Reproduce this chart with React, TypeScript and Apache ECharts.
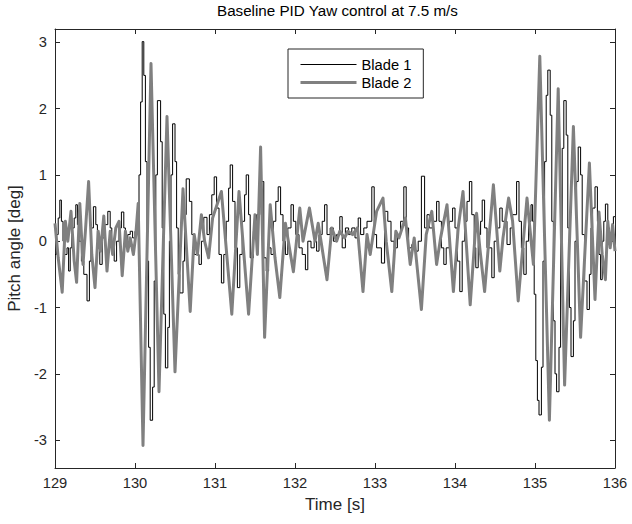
import React, { useEffect, useRef } from 'react';
import * as echarts from 'echarts';

const titleText = 'Baseline PID Yaw control at 7.5 m/s';
const xName = 'Time [s]';
const yName = 'Pitch angle [deg]';
const xRange = [129, 136];
const yRange = [-3.42, 3.2];
const yTicks = [-3, -2, -1, 0, 1, 2, 3];
const seriesNames = ['Blade 1', 'Blade 2'];

// Blade 1: zero-order-hold samples [time s, pitch deg]
const blade1: [number, number][] = [
  [129.0, -0.2], [129.02, 0.1], [129.04, 0.35], [129.06, 0.62], [129.08, 0.3], [129.1, 0.0],
  [129.12, -0.2], [129.15, -0.1], [129.17, -0.45], [129.19, -0.1], [129.21, 0.2], [129.24, 0.35],
  [129.26, 0.55], [129.28, 0.25], [129.3, 0.0], [129.33, -0.3], [129.36, -0.5], [129.4, -0.9],
  [129.43, -0.3], [129.45, 0.2], [129.48, 0.52], [129.51, 0.25], [129.53, 0.0], [129.56, -0.35],
  [129.59, 0.05], [129.62, 0.25], [129.66, 0.45], [129.69, 0.2], [129.71, -0.05], [129.74, -0.3],
  [129.77, 0.0], [129.8, 0.2], [129.83, 0.44], [129.86, 0.2], [129.88, 0.0], [129.91, 0.1],
  [129.94, 0.15], [129.97, 0.05], [130.0, 0.15], [130.03, 0.3],
  [130.05, 1.0], [130.07, 2.1], [130.09, 3.01], [130.11, 2.5], [130.13, 1.2], [130.15, -0.3],
  [130.17, -1.6], [130.19, -2.7], [130.22, -2.2], [130.24, -0.6], [130.26, 1.0], [130.28, 2.12],
  [130.32, 1.5], [130.34, 0.2], [130.36, -1.1], [130.38, -1.91], [130.41, -1.3], [130.43, 0.0],
  [130.45, 1.0], [130.47, 1.77], [130.5, 1.2], [130.52, 0.2], [130.54, -0.5], [130.56, -0.78],
  [130.6, -0.3], [130.62, 0.4], [130.64, 0.94], [130.68, 0.6], [130.71, 0.1], [130.74, -0.2],
  [130.8, -0.35], [130.83, 0.0], [130.86, 0.36], [130.9, 0.1], [130.93, 0.4], [130.96, 0.7],
  [130.99, 0.97], [131.02, 0.5], [131.05, -0.2], [131.08, -0.63], [131.11, -0.2], [131.14, 0.3],
  [131.17, 0.8], [131.19, 1.15], [131.22, 0.6], [131.25, -0.1], [131.28, -0.7], [131.31, -0.2],
  [131.34, 0.3], [131.37, 0.7], [131.39, 1.0], [131.42, 0.4], [131.44, -0.25], [131.48, 0.15],
  [131.52, 0.4], [131.56, 0.6], [131.58, 0.9], [131.61, -0.25], [131.64, -0.45], [131.67, -0.1],
  [131.7, -0.2], [131.73, 0.3], [131.76, 0.6], [131.79, 0.82], [131.82, 0.4], [131.85, 0.0],
  [131.88, -0.2], [131.91, 0.2], [131.95, 0.55], [131.98, 0.3], [132.01, 0.1], [132.05, -0.1],
  [132.09, -0.2], [132.13, -0.43], [132.16, 0.0], [132.2, -0.1], [132.24, 0.0], [132.27, -0.15],
  [132.3, 0.1], [132.34, 0.3], [132.37, 0.55], [132.4, 0.1], [132.44, 0.2], [132.48, 0.0],
  [132.52, 0.1], [132.56, 0.37], [132.59, -0.1], [132.63, 0.2], [132.67, 0.1], [132.71, 0.2],
  [132.75, 0.05], [132.79, 0.35], [132.82, 0.1], [132.86, 0.2], [132.9, 0.3], [132.96, 0.82],
  [132.99, 0.1], [133.02, -0.1], [133.08, -0.33], [133.12, 0.45], [133.16, 0.3], [133.2, 0.0],
  [133.24, -0.1], [133.28, 0.1], [133.32, 0.3], [133.36, 0.82], [133.39, 0.2], [133.42, -0.1],
  [133.46, -0.05], [133.5, -0.15], [133.54, 0.0], [133.58, 0.98], [133.62, 0.2], [133.65, 0.4],
  [133.68, 0.2], [133.72, 0.3], [133.77, 0.6], [133.8, 0.3], [133.83, -0.1], [133.86, -0.35],
  [133.89, -0.1], [133.93, 0.3], [133.97, 0.5], [134.0, 0.2], [134.03, -0.3], [134.06, -0.76],
  [134.09, 0.0], [134.12, 0.3], [134.15, 0.6], [134.18, 0.9], [134.21, 0.4], [134.24, -0.1],
  [134.26, -0.4], [134.29, 0.1], [134.32, 0.3], [134.34, 0.62], [134.37, 0.2], [134.4, -0.1],
  [134.46, -0.55], [134.49, 0.0], [134.52, 0.2], [134.56, 0.5], [134.59, 0.3], [134.65, -0.05],
  [134.69, 0.2], [134.72, 0.4], [134.77, 0.9], [134.8, 0.3], [134.83, -0.1], [134.86, -0.5],
  [134.89, 0.0], [134.92, 0.3], [134.95, 0.55], [134.97, 0.3],
  [134.99, -0.8], [135.01, -1.8], [135.03, -2.4], [135.05, -2.62], [135.08, -1.9], [135.1, -0.3],
  [135.12, 1.2], [135.14, 2.2], [135.16, 2.58], [135.19, 1.9], [135.21, 0.3], [135.23, -1.2],
  [135.25, -2.0], [135.27, -2.27], [135.3, -1.6], [135.32, 0.0], [135.34, 1.4], [135.36, 2.12],
  [135.39, 1.6], [135.41, 0.2], [135.43, -1.0], [135.45, -1.74], [135.48, -1.2], [135.5, 0.0],
  [135.52, 0.9], [135.54, 1.42], [135.57, 1.0], [135.59, 0.1], [135.62, -0.6], [135.65, -1.03],
  [135.68, -0.5], [135.7, 0.2], [135.72, 0.5], [135.75, 0.82], [135.78, 0.3], [135.8, -0.2],
  [135.82, -0.58], [135.84, 0.0], [135.86, 0.3], [135.88, 0.56], [135.91, 0.2], [135.93, 0.0],
  [135.96, 0.2], [135.98, 0.37], [136.0, 0.37],
];

// Blade 2: [time s, pitch deg]
const blade2: [number, number][] = [
  [129.0, 0.27], [129.04, -0.25], [129.09, -0.77], [129.13, 0.3], [129.16, 0.0], [129.2, 0.45],
  [129.24, -0.3], [129.27, -0.62], [129.31, 0.57], [129.35, -0.35], [129.38, 0.15], [129.42, 0.9],
  [129.46, -0.2], [129.5, -0.7], [129.54, 0.15], [129.57, -0.15], [129.61, 0.38], [129.65, -0.45],
  [129.69, 0.15], [129.72, -0.2], [129.76, 0.2], [129.8, 0.3], [129.84, -0.52], [129.88, 0.15],
  [129.91, -0.15], [129.94, 0.05], [129.98, -0.2], [130.01, 0.1], [130.04, 0.57],
  [130.1, -3.08], [130.2, 2.68], [130.3, -2.27], [130.4, 1.88], [130.5, -1.97], [130.6, 0.79],
  [130.69, -1.06], [130.74, 0.1], [130.78, -0.2], [130.83, 0.4], [130.87, 0.0], [130.92, -0.25],
  [130.97, 0.35], [131.08, 0.75], [131.21, -1.1], [131.3, 0.75], [131.42, -1.1], [131.5, 0.4],
  [131.53, -0.2], [131.57, 1.42], [131.62, -1.45], [131.69, 0.55], [131.75, -0.25], [131.81, -0.85],
  [131.88, 0.27], [131.93, -0.1], [131.98, -0.46], [132.06, 0.5], [132.1, 0.0], [132.18, 0.5],
  [132.25, 0.0], [132.29, 0.27], [132.4, -0.58], [132.46, 0.2], [132.52, 0.0], [132.56, 0.15],
  [132.62, 0.05], [132.66, 0.15], [132.72, 0.1], [132.78, 0.2], [132.85, -0.76], [132.9, 0.1],
  [132.94, -0.2], [133.02, 0.45], [133.1, 0.65], [133.14, 0.0], [133.21, -0.76], [133.26, 0.15],
  [133.3, 0.05], [133.38, 0.35], [133.44, -0.35], [133.49, 0.05], [133.58, -1.03], [133.64, 0.1],
  [133.71, 0.45], [133.77, -0.35], [133.82, 0.05], [133.9, 0.55], [133.98, -0.76], [134.04, 0.2],
  [134.1, 0.75], [134.19, -0.96], [134.27, 0.42], [134.31, -0.1], [134.37, -0.76], [134.48, 0.85],
  [134.56, -0.45], [134.6, 0.05], [134.67, 0.65], [134.72, 0.3], [134.79, -0.9], [134.9, 0.65],
  [134.98, -0.35], [135.06, 2.79], [135.18, -2.7], [135.29, 2.3], [135.37, -2.17], [135.48, 1.73],
  [135.57, -1.45], [135.68, 1.18], [135.75, -0.88], [135.8, 0.44], [135.84, -0.2], [135.88, -0.58],
  [135.91, 0.3], [135.94, -0.1], [135.97, 0.25], [136.0, -0.15],
];

const FONT = "'Liberation Sans', Arial, Helvetica, sans-serif";
const AXIS_COLOR = '#262626';

export default function App() {
  const ref = useRef<HTMLDivElement>(null);
  useEffect(() => {
    if (!ref.current) return;
    const chart = echarts.init(ref.current, null, { renderer: 'svg' });
    const axisLine = { show: true, onZero: false, lineStyle: { color: AXIS_COLOR, width: 1 } };
    const axisTick = { show: true, inside: true, length: 5, lineStyle: { color: AXIS_COLOR, width: 1 } };
    const labelStyle = { color: AXIS_COLOR, fontSize: 14.7, fontFamily: FONT };
    const nameStyle = { color: AXIS_COLOR, fontSize: 17, fontFamily: FONT };
    chart.setOption({
      animation: false,
      backgroundColor: '#ffffff',
      title: {
        text: titleText,
        left: 217,
        top: 3,
        padding: 0,
        textStyle: { color: '#000', fontSize: 15.2, fontWeight: 'normal', fontFamily: FONT },
      },
      grid: { left: 55, right: 17, top: 29, bottom: 56, outerBoundsMode: 'none', containLabel: false },
      legend: {
        orient: 'vertical',
        left: 288,
        top: 49,
        padding: [8, 12, 8, 11],
        itemGap: 3,
        itemWidth: 56,
        itemHeight: 14,
        backgroundColor: '#fff',
        borderColor: AXIS_COLOR,
        borderWidth: 1,
        itemStyle: { opacity: 0 },
        textStyle: { color: '#000', fontSize: 14.7, fontFamily: FONT },
        data: [
          { name: seriesNames[0], lineStyle: { width: 1 } },
          { name: seriesNames[1], lineStyle: { width: 3 } },
        ],
      },
      xAxis: [
        {
          type: 'value', position: 'bottom', min: xRange[0], max: xRange[1], interval: 1,
          axisLine, axisTick, splitLine: { show: false },
          axisLabel: { ...labelStyle, margin: 7 },
          name: xName, nameLocation: 'middle', nameGap: 28,
          nameTextStyle: nameStyle,
        },
        {
          type: 'value', position: 'top', min: xRange[0], max: xRange[1], interval: 1,
          axisLine, axisTick, splitLine: { show: false }, axisLabel: { show: false },
        },
      ],
      yAxis: [
        {
          type: 'value', position: 'left', min: yRange[0], max: yRange[1],
          axisLine, splitLine: { show: false },
          axisTick: { ...axisTick, customValues: yTicks },
          axisLabel: { ...labelStyle, margin: 8, customValues: yTicks },
          name: yName, nameLocation: 'middle', nameGap: 29,
          nameTextStyle: nameStyle,
        },
        {
          type: 'value', position: 'right', min: yRange[0], max: yRange[1],
          axisLine, splitLine: { show: false },
          axisTick: { ...axisTick, customValues: yTicks },
          axisLabel: { show: false },
        },
      ],
      series: [
        {
          name: seriesNames[0], type: 'line', data: blade1, step: 'end', symbol: 'none', showSymbol: false,
          xAxisIndex: 0, yAxisIndex: 0, z: 2,
          lineStyle: { color: '#000', width: 1 }, itemStyle: { color: '#000' },
        },
        {
          name: seriesNames[1], type: 'line', data: blade2, symbol: 'none', showSymbol: false,
          xAxisIndex: 0, yAxisIndex: 0, z: 3,
          lineStyle: { color: '#808080', width: 3, join: 'round' }, itemStyle: { color: '#808080' },
        },
      ],
    });
    return () => chart.dispose();
  }, []);
  return (
    <div
      ref={ref}
      style={{ position: 'fixed', left: 0, top: 0, width: 632, height: 524, background: '#fff' }}
    />
  );
}
